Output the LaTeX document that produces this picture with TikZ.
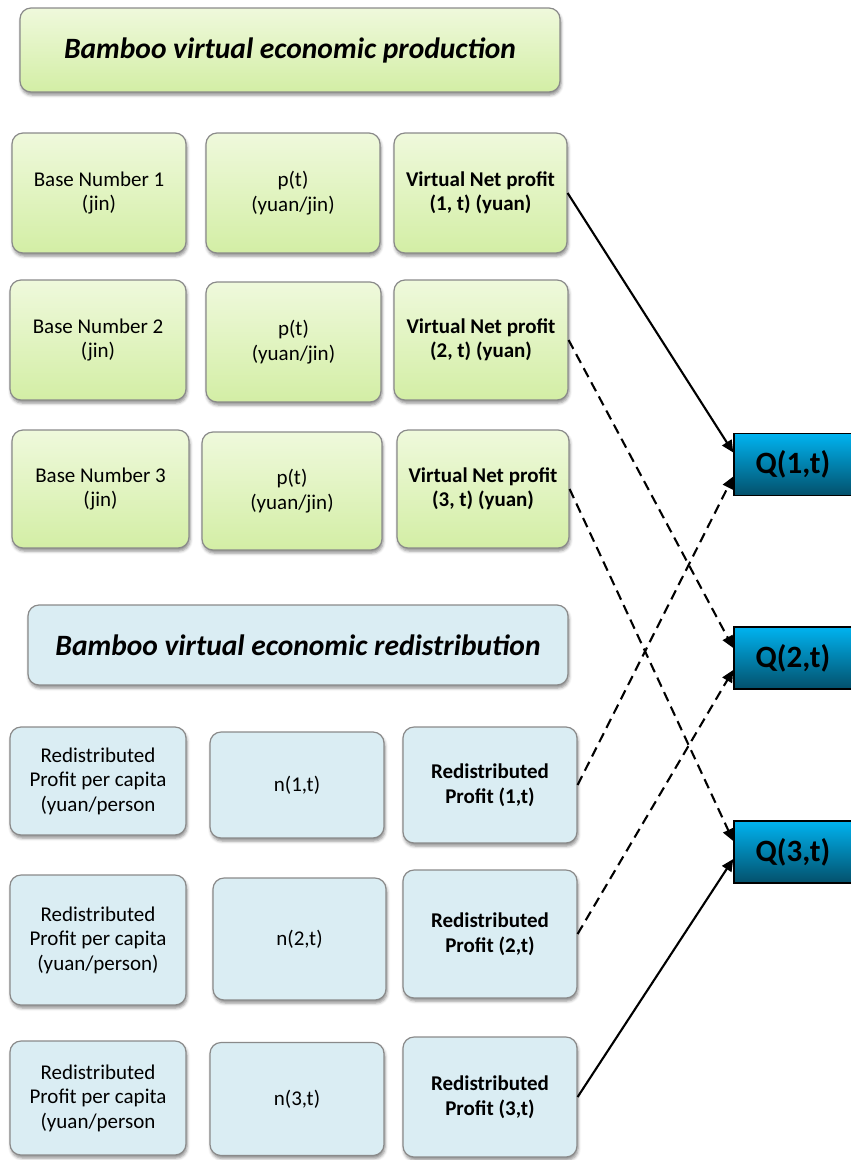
\documentclass[tikz,border=0pt]{standalone}
\usepackage{fontspec}
\setmainfont{Carlito}
\usetikzlibrary{shadows.blur, arrows.meta}

\definecolor{greentop}{HTML}{EFF9DC}
\definecolor{greenbot}{HTML}{D3EEA5}
\definecolor{bluefill}{HTML}{DAEDF3}
\definecolor{boxgray}{HTML}{8A8A8A}
\definecolor{qtop}{HTML}{00B3F0}
\definecolor{qbot}{HTML}{03506B}

\begin{document}
\begin{tikzpicture}[x=1pt, y=1pt,
  basebox/.style={draw=boxgray, line width=1.2pt, rounded corners=11pt,
    align=center, inner sep=0pt, font=\fontsize{21}{24.5}\selectfont,
    blur shadow={shadow xshift=1pt, shadow yshift=-3pt,
      shadow blur radius=3pt, shadow opacity=45}},
  greenbox/.style={basebox, top color=greentop, bottom color=greenbot},
  bluebox/.style={basebox, fill=bluefill},
  header/.style={font=\fontsize{29.5}{34}\selectfont\bfseries\itshape},
  strong/.style={font=\fontsize{21}{24.5}\selectfont\bfseries},
  qbox/.style={draw=black, line width=1.5pt, top color=qtop, bottom color=qbot,
    minimum width=118pt, minimum height=62pt, inner sep=0pt,
    font=\fontsize{31}{34}\selectfont\bfseries},
  conn/.style={line width=2.1pt, -{Triangle[length=12pt, width=11pt]}},
  dconn/.style={conn, dash pattern=on 10pt off 6pt}
]
\useasboundingbox (0,0) rectangle (851,-1160);
\clip (0,0) rectangle (851,-1160);

% production block
\node[greenbox, header, minimum width=540pt, minimum height=84pt] (hprod) at (290,-50)
  {Bamboo virtual economic production};

\node[greenbox, minimum width=174pt, minimum height=120pt] (b1) at (99,-193) {Base Number 1\\(jin)};
\node[greenbox, minimum width=174pt, minimum height=120pt] (p1) at (293,-193) {p(t)\\(yuan/jin)};
\node[greenbox, strong, minimum width=173pt, minimum height=120pt] (v1) at (480.5,-193) {Virtual Net profit\\(1, t) (yuan)};

\node[greenbox, minimum width=176pt, minimum height=120pt] (b2) at (98,-340) {Base Number 2\\(jin)};
\node[greenbox, minimum width=175pt, minimum height=120pt] (p2) at (293.5,-342) {p(t)\\(yuan/jin)};
\node[greenbox, strong, minimum width=174pt, minimum height=120pt] (v2) at (481,-340) {Virtual Net profit\\(2, t) (yuan)};

\node[greenbox, minimum width=177pt, minimum height=118pt] (b3) at (100.5,-489) {Base Number 3\\(jin)};
\node[greenbox, minimum width=180pt, minimum height=118pt] (p3) at (292,-491) {p(t)\\(yuan/jin)};
\node[greenbox, strong, minimum width=172pt, minimum height=118pt] (v3) at (483,-489) {Virtual Net profit\\(3, t) (yuan)};

% redistribution block
\node[bluebox, header, minimum width=540pt, minimum height=80pt] (hred) at (298,-645)
  {Bamboo virtual economic redistribution};

\node[bluebox, minimum width=176pt, minimum height=108pt] (r1) at (98,-781) {Redistributed\\Profit per capita\\(yuan/person};
\node[bluebox, minimum width=174pt, minimum height=106pt] (n1) at (297,-785) {n(1,t)};
\node[bluebox, strong, minimum width=174pt, minimum height=116pt] (rp1) at (490,-785) {Redistributed\\Profit (1,t)};

\node[bluebox, minimum width=176pt, minimum height=130pt] (r2) at (98,-940) {Redistributed\\Profit per capita\\(yuan/person)};
\node[bluebox, minimum width=173pt, minimum height=122pt] (n2) at (299.5,-939) {n(2,t)};
\node[bluebox, strong, minimum width=174pt, minimum height=128pt] (rp2) at (490,-934) {Redistributed\\Profit (2,t)};

\node[bluebox, minimum width=176pt, minimum height=114pt] (r3) at (98,-1098) {Redistributed\\Profit per capita\\(yuan/person};
\node[bluebox, minimum width=174pt, minimum height=113pt] (n3) at (297,-1099) {n(3,t)};
\node[bluebox, strong, minimum width=174pt, minimum height=120pt] (rp3) at (490,-1097) {Redistributed\\Profit (3,t)};

% outputs
\node[qbox] (q1) at (793,-464.5) {Q(1,t)};
\node[qbox] (q2) at (793,-658) {Q(2,t)};
\node[qbox] (q3) at (793,-852) {Q(3,t)};

% connectors
\draw[conn]  (v1.east)  -- ([yshift=12pt]q1.west);
\draw[dconn] (rp1.east) -- ([yshift=-12pt]q1.west);
\draw[dconn] (v2.east)  -- ([yshift=10pt]q2.west);
\draw[dconn] (rp2.east) -- ([yshift=-12pt]q2.west);
\draw[dconn] (v3.east)  -- ([yshift=11pt]q3.west);
\draw[conn]  (rp3.east) -- ([yshift=-7pt]q3.west);
\end{tikzpicture}
\end{document}
